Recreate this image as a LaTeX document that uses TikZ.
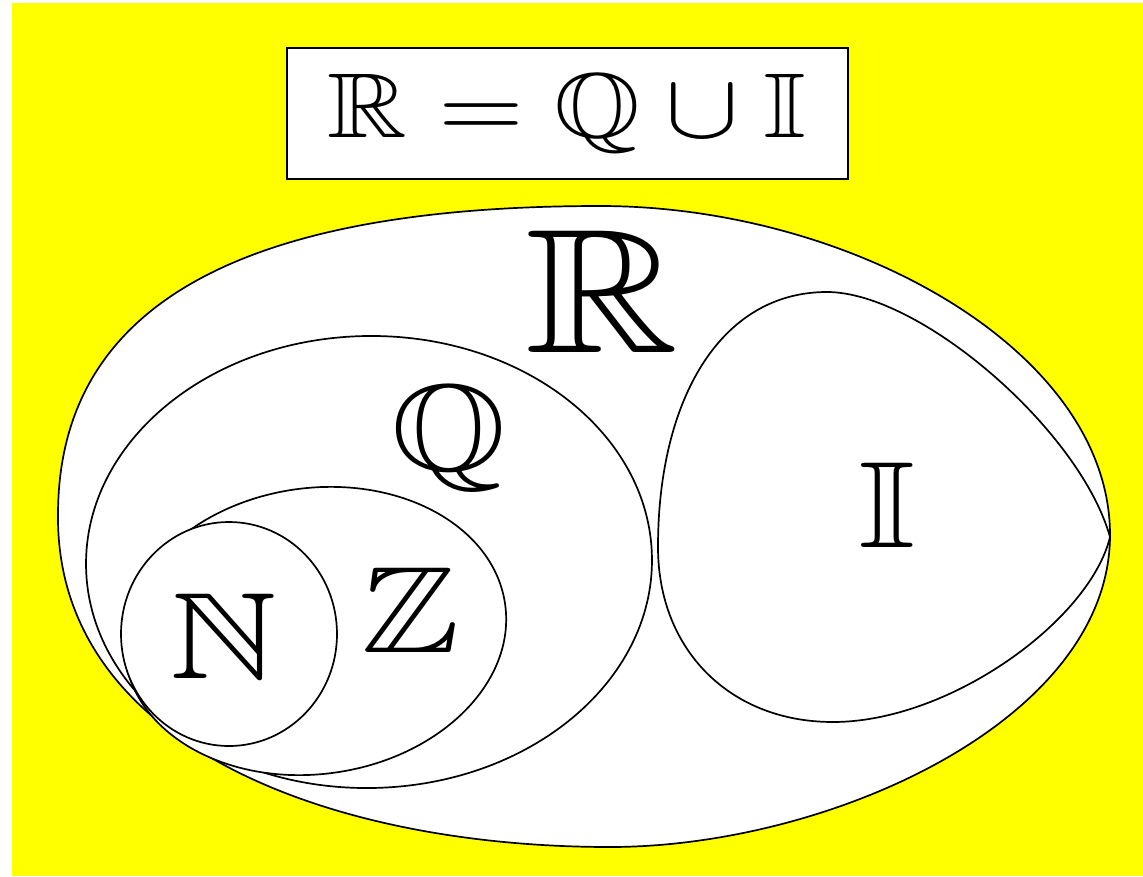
\documentclass[tikz,border=0pt]{standalone}
\usepackage{amssymb}
\usepackage{graphicx}
\definecolor{bgyellow}{RGB}{255,255,0}
\newcommand{\bbsym}[2]{\scalebox{\fpeval{#1*1.2/10}}[\fpeval{#1/10}]{$#2$}}
\begin{document}
\begin{tikzpicture}[x=1pt,y=-1pt,
  outline/.style={draw=black, line width=1.7pt, fill=white},
  setlabel/.style={anchor=base, inner sep=0pt, text=black},
]
\useasboundingbox (0,0) rectangle (1143,876);
\fill[white] (0,0) rectangle (1143,876);
\fill[bgyellow] (12,3) rectangle (1143,876);
% title box
\node[draw=black, line width=1.7pt, fill=white, minimum width=561pt, minimum height=131pt, inner sep=0pt] (box) at (567.5,113.5) {};
\node[setlabel] (eq) at (567,137) {\bbsym{92}{\mathbb{R}=\mathbb{Q}\cup\mathbb{I}}};
% R
\draw[outline] (58,515) .. controls (58,300) and (250,206) .. (600,206)
  .. controls (850,206) and (1110,350) .. (1110,535)
  .. controls (1110,720) and (830,847) .. (610,847)
  .. controls (330,847) and (56,745) .. cycle;
% Q
\draw[outline, rotate around={1:(369,562)}] (369,562) ellipse [x radius=283, y radius=226];
% Z
\draw[outline, rotate around={8:(315,631)}] (315,631) ellipse [x radius=192, y radius=143];
% N
\draw[outline] (229,634) ellipse [x radius=108, y radius=112];
% I
\draw[outline] (827,292) .. controls (920,292) and (1080,430) .. (1110,537)
  .. controls (1090,620) and (950,722) .. (833,722)
  .. controls (730,722) and (658,650) .. (658,547)
  .. controls (658,400) and (720,292) .. cycle;
% labels
\node[setlabel] (lR) at (602,352) {\bbsym{177}{\mathbb{R}}};
\node[setlabel] (lQ) at (449,470) {\bbsym{123}{\mathbb{Q}}};
\node[setlabel] (lZ) at (411,652) {\bbsym{123}{\mathbb{Z}}};
\node[setlabel] (lN) at (224,678) {\bbsym{123}{\mathbb{N}}};
\node[setlabel] (lI) at (887,547) {\bbsym{123}{\mathbb{I}}};
\end{tikzpicture}
\end{document}
